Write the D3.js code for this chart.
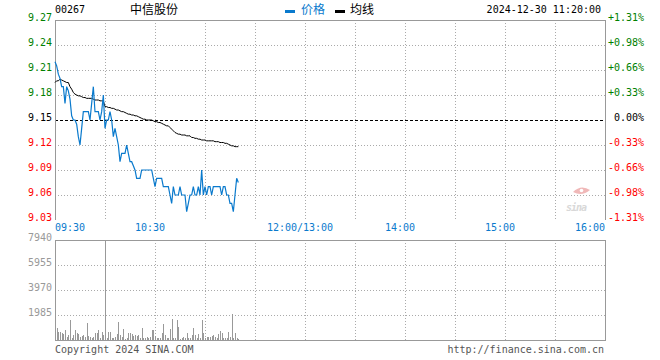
<!DOCTYPE html>
<html><head><meta charset="utf-8">
<script src="https://cdn.jsdelivr.net/npm/d3@7"></script>
<style>
html,body{margin:0;padding:0;background:#fff;}
svg{display:block;}
text{font-family:"DejaVu Sans Mono",monospace;font-size:10px;}
.cjk{font-family:"Noto Sans CJK SC",sans-serif;font-size:12px;}
</style></head><body>
<svg id="c" width="660" height="360"></svg>
<script>
// ---- data ----
const stockCode = "00267";
const stockName = "中信股份";
const timestamp = "2024-12-30 11:20:00";
const prevClose = 9.15;
const priceTicks = [9.27, 9.24, 9.21, 9.18, 9.15, 9.12, 9.09, 9.06, 9.03];
const pctLabels = ["+1.31%","+0.98%","+0.66%","+0.33%","0.00%","-0.33%","-0.66%","-0.98%","-1.31%"];
const volTicks = [7940, 5955, 3970, 1985];
const timeTickMinutes = [0, 60, 150, 210, 270, 330];
const timeTickLabels = ["09:30","10:30","12:00/13:00","14:00","15:00","16:00"];
// minute index from 09:30 (session minutes; 12:00/13:00 = 150)
const price = [9.22,9.215,9.205,9.20,9.19,9.19,9.17,9.19,9.185,9.175,
  9.155,9.15,9.15,9.145,9.13,9.12,9.14,9.16,9.16,9.16,
  9.16,9.15,9.17,9.19,9.16,9.16,9.16,9.15,9.16,9.18,
  9.14,9.15,9.15,9.16,9.15,9.13,9.14,9.13,9.12,9.10,
  9.11,9.11,9.11,9.12,9.11,9.10,9.10,9.095,9.09,9.08,
  9.08,9.08,9.09,9.09,9.09,9.09,9.09,9.09,9.09,9.08,
  9.07,9.08,9.08,9.08,9.08,9.07,9.07,9.07,9.07,9.06,
  9.05,9.07,9.06,9.06,9.06,9.07,9.06,9.06,9.06,9.04,
  9.05,9.06,9.06,9.07,9.06,9.06,9.07,9.06,9.09,9.06,
  9.07,9.06,9.07,9.07,9.06,9.07,9.07,9.07,9.07,9.07,
  9.06,9.07,9.07,9.06,9.06,9.05,9.05,9.04,9.06,9.08,9.075];
const avgPrice = [9.195,9.197,9.197,9.199,9.198,9.197,9.196,9.195,9.195,9.19,
  9.187,9.183,9.181,9.18,9.179,9.179,9.178,9.177,9.177,9.176,
  9.176,9.176,9.176,9.175,9.174,9.174,9.174,9.173,9.173,9.173,
  9.166,9.166,9.165,9.165,9.164,9.164,9.163,9.162,9.162,9.161,
  9.160,9.160,9.159,9.158,9.157,9.157,9.156,9.156,9.155,9.155,
  9.154,9.153,9.152,9.151,9.151,9.150,9.150,9.150,9.150,9.149,
  9.148,9.148,9.147,9.147,9.146,9.145,9.144,9.143,9.143,9.141,
  9.139,9.137,9.135,9.134,9.133,9.133,9.132,9.132,9.132,9.131,
  9.131,9.131,9.129,9.129,9.128,9.128,9.127,9.127,9.126,9.126,
  9.126,9.125,9.125,9.125,9.125,9.125,9.124,9.124,9.124,9.123,
  9.123,9.123,9.122,9.122,9.121,9.120,9.119,9.119,9.118,9.118,9.118];
const volume = [900,980,610,660,530,450,820,260,400,1590,
  180,400,790,580,450,260,340,400,260,1380,
  340,260,130,260,580,530,790,180,610,400,
  7940,130,610,660,130,130,260,450,1460,400,
  260,870,50,130,580,530,450,340,400,340,
  400,130,950,130,180,260,130,260,790,790,
  320,130,180,130,530,1240,400,130,180,870,
  1670,130,130,1590,1000,50,180,240,130,580,
  130,180,400,980,400,130,450,180,1590,530,
  130,260,260,260,320,400,260,130,450,710,
  530,180,130,130,660,240,2065,130,580,130,100];

// ---- layout ----
const svg = d3.select("#c");
const L = 55, R = 605, PT = 20, PB = 220, VT = 240, VB = 340;
const x = d3.scaleLinear().domain([0, 330]).range([L, R]);
const y = d3.scaleLinear().domain([9.03, 9.27]).range([PB, PT]);
const yv = d3.scaleLinear().domain([0, 7940]).range([VB, VT]);
const gridMinutes = d3.range(30, 330, 30);
const GRID = "#aaa", FRAME = "#999";
const BLUE = "#0a7acd", GREEN = "#008000", RED = "#ff0000";

// watermark
const wm = svg.append("g");
wm.append("path").attr("d", "M573,192 Q581,184 590,190 Q582,197 573,192 Z").attr("fill", "#f0b8b8");
wm.append("circle").attr("cx", 581.5).attr("cy", 190.5).attr("r", 1.8).attr("fill", "#fff");
wm.append("text").attr("x", 566).attr("y", 211).attr("font-family", "DejaVu Sans").attr("font-size", 20)
  .attr("font-weight", "bold").attr("font-style", "italic").attr("fill", "#d8d8d8").attr("letter-spacing", -1).text("sina");

// price panel grid
const pg = svg.append("g").attr("shape-rendering", "crispEdges");
pg.selectAll(".vg").data(gridMinutes).join("line")
  .attr("x1", d => Math.round(x(d)) + 0.5).attr("x2", d => Math.round(x(d)) + 0.5)
  .attr("y1", PT).attr("y2", PB).attr("stroke", GRID).attr("stroke-dasharray", "1,2");
pg.selectAll(".hg").data(priceTicks.filter(d => d !== 9.27 && d !== 9.03 && d !== prevClose)).join("line")
  .attr("x1", L).attr("x2", R).attr("y1", d => Math.round(y(d)) + 0.5).attr("y2", d => Math.round(y(d)) + 0.5)
  .attr("stroke", GRID).attr("stroke-dasharray", "1,2");
pg.append("line").attr("x1", L).attr("x2", R).attr("y1", Math.round(y(prevClose)) + 0.5).attr("y2", Math.round(y(prevClose)) + 0.5)
  .attr("stroke", "#000").attr("stroke-dasharray", "3,2");
pg.append("path").attr("d", `M${L + 0.5},${PB}V${PT + 0.5}H${R + 0.5}V${PB}`).attr("fill", "none").attr("stroke", FRAME);

// price labels
svg.selectAll(".pl").data(priceTicks).join("text")
  .attr("x", 52).attr("y", d => y(d) + 1).attr("text-anchor", "end")
  .attr("fill", d => d > prevClose + 1e-9 ? GREEN : (d < prevClose - 1e-9 ? RED : "#000"))
  .text(d => d.toFixed(2));
svg.selectAll(".pc").data(priceTicks).join("text")
  .attr("x", 644).attr("y", d => y(d) + 0.5).attr("text-anchor", "end")
  .attr("fill", d => d > prevClose + 1e-9 ? GREEN : (d < prevClose - 1e-9 ? RED : "#000"))
  .text((d, i) => pctLabels[i]);

// lines
const line = d3.line().x((d, i) => x(i)).y(d => y(d));
svg.append("path").datum(avgPrice).attr("d", line).attr("fill", "none").attr("stroke", "#000").attr("stroke-width", 1);
svg.append("path").datum(price).attr("d", line).attr("fill", "none").attr("stroke", BLUE).attr("stroke-width", 1.2);

// time labels
svg.selectAll(".tl").data(timeTickMinutes).join("text")
  .attr("x", (d, i) => i === 0 ? x(d) : (i === timeTickMinutes.length - 1 ? x(d) : x(d) - 5))
  .attr("y", 231)
  .attr("text-anchor", (d, i) => i === 0 ? "start" : (i === timeTickMinutes.length - 1 ? "end" : "middle"))
  .attr("fill", BLUE).text((d, i) => timeTickLabels[i]);

// volume panel
const vg = svg.append("g").attr("shape-rendering", "crispEdges");
vg.selectAll(".vvg").data(gridMinutes).join("line")
  .attr("x1", d => Math.round(x(d)) + 0.5).attr("x2", d => Math.round(x(d)) + 0.5)
  .attr("y1", VT).attr("y2", VB).attr("stroke", GRID).attr("stroke-dasharray", "1,2");
vg.selectAll(".vhg").data(volTicks.slice(1)).join("line")
  .attr("x1", L).attr("x2", R).attr("y1", d => Math.round(yv(d)) + 0.5).attr("y2", d => Math.round(yv(d)) + 0.5)
  .attr("stroke", GRID).attr("stroke-dasharray", "1,2");
vg.selectAll(".bar").data(volume).join("rect")
  .attr("x", (d, i) => Math.round(x(i))).attr("width", 1)
  .attr("y", d => yv(d)).attr("height", d => VB - yv(d)).attr("fill", "#999");
vg.append("rect").attr("x", L + 0.5).attr("y", VT + 0.5).attr("width", R - L).attr("height", VB - VT)
  .attr("fill", "none").attr("stroke", FRAME);
svg.selectAll(".vl").data(volTicks).join("text")
  .attr("x", 52).attr("y", d => yv(d) + 1).attr("text-anchor", "end").attr("fill", "#999").text(d => d);

// header
svg.append("text").attr("x", 55).attr("y", 12.5).attr("fill", "#000").text(stockCode);
svg.append("text").attr("class", "cjk").attr("x", 130).attr("y", 13.5).attr("fill", "#000").text(stockName);
svg.append("rect").attr("x", 285).attr("y", 10).attr("width", 10).attr("height", 3).attr("fill", BLUE);
svg.append("text").attr("class", "cjk").attr("x", 301).attr("y", 13.5).attr("fill", BLUE).text("价格");
svg.append("rect").attr("x", 335).attr("y", 10).attr("width", 10).attr("height", 3).attr("fill", "#000");
svg.append("text").attr("class", "cjk").attr("x", 350).attr("y", 13.5).attr("fill", "#000").text("均线");
svg.append("text").attr("x", 601).attr("y", 12.5).attr("text-anchor", "end").attr("fill", "#000").text(timestamp);

// footer
svg.append("text").attr("x", 55).attr("y", 353).attr("fill", "#555").text("Copyright 2024 SINA.COM");
svg.append("text").attr("x", 604).attr("y", 353).attr("text-anchor", "end").attr("fill", "#555").text("http://finance.sina.com.cn");
</script>
</body></html>
